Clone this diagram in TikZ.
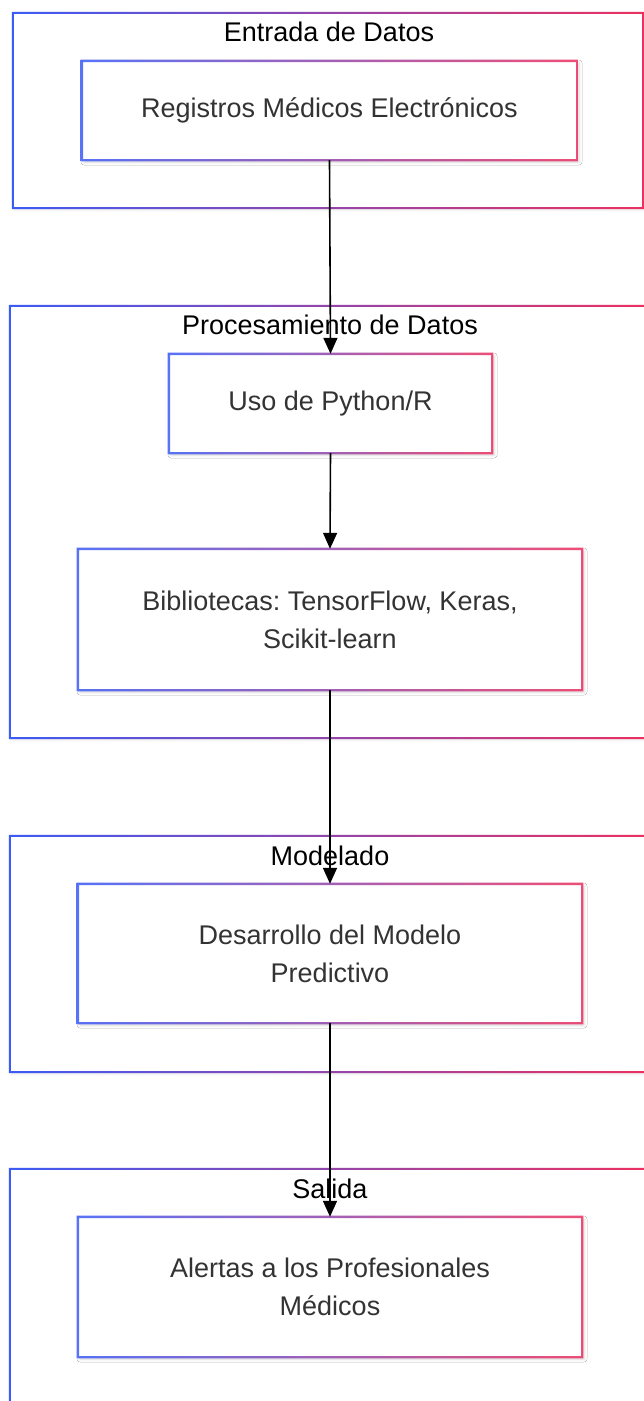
\documentclass[tikz,border=0pt]{standalone}
\usepackage{fontspec}
\setmainfont{Liberation Sans}
\usetikzlibrary{calc,arrows.meta,shadows.blur}
\frenchspacing

\definecolor{cblue}{RGB}{59,91,245}
\definecolor{cred}{RGB}{236,48,96}
\definecolor{ntext}{RGB}{51,51,51}

% gradient border (blue to red, left to right) around a named node
\newcommand\gradring[3][1]{%
  \shade[left color=cblue,right color=cred,even odd rule,opacity=#3]
    ($(#2.south west)+(-#1,#1)$) rectangle ($(#2.north east)+(#1,-#1)$)
    ($(#2.south west)+(#1,-#1)$) rectangle ($(#2.north east)+(-#1,#1)$);}

\tikzset{
  cluster/.style={rectangle,fill=white,inner sep=0pt,
    blur shadow={shadow xshift=1.5pt,shadow yshift=-1.5pt,shadow blur radius=3pt,shadow opacity=12}},
  ctitle/.style={anchor=base,text=black,font=\fontsize{27}{33}\selectfont},
  proc/.style={rectangle,fill=white,inner sep=0pt,align=center,text=ntext,
    font=\fontsize{27}{38}\selectfont,
    blur shadow={shadow xshift=2pt,shadow yshift=-2pt,shadow blur radius=3pt,shadow opacity=15}},
  flow/.style={draw=black,line width=1.6pt,-{Triangle[length=16pt,width=14pt]}}
}

\begin{document}
\begin{tikzpicture}[x=1pt,y=-1pt]
\useasboundingbox (0,0) rectangle (644,1401);
\clip (0,0) rectangle (644,1401);

% --- Entrada de Datos ---
\node[cluster,minimum width=630pt,minimum height=195pt] (c1) at (328,110.5) {};
\gradring{c1}{1}
\node[ctitle] (t1) at ($(c1.north)+(1,28.5)$) {Entrada de Datos};
\node[proc,minimum width=495pt,minimum height=99pt] (n1) at (329.5,110.5) {\raisebox{-2pt}{Registros Médicos Electrónicos}};
\gradring[1.2]{n1}{0.85}

% --- Procesamiento de Datos ---
\node[cluster,minimum width=640pt,minimum height=432pt] (c2) at (330,522) {};
\gradring{c2}{1}
\node[ctitle] (t2) at (330,334.5) {Procesamiento de Datos};
\node[proc,minimum width=323pt,minimum height=99pt] (n2) at (330.5,403.5) {\raisebox{-2pt}{Uso de Python/R}};
\gradring[1.2]{n2}{0.85}
\node[proc,minimum width=504pt,minimum height=141pt] (n3) at (330,619.5) {Bibliotecas: TensorFlow, Keras,\\Scikit-learn};
\gradring[1.2]{n3}{0.85}

% --- Modelado ---
\node[cluster,minimum width=640pt,minimum height=236pt] (c3) at (330,954) {};
\gradring{c3}{1}
\node[ctitle] (t3) at (330,865) {Modelado};
\node[proc,minimum width=504pt,minimum height=139pt] (n4) at (330,953.5) {Desarrollo del Modelo\\Predictivo};
\gradring[1.2]{n4}{0.85}

% --- Salida ---
\node[cluster,minimum width=640pt,minimum height=271pt] (c4) at (330,1304.5) {};
\gradring{c4}{1}
\node[ctitle] (t4) at (330,1198) {Salida};
\node[proc,minimum width=504pt,minimum height=140pt] (n5) at (330,1287) {Alertas a los Profesionales\\Médicos};
\gradring[1.2]{n5}{0.85}

% --- flow ---
\draw[flow] (n1.south) -- (n2.north);
\draw[flow] (n2.south) -- (n3.north);
\draw[flow] (n3.south) -- (n4.north);
\draw[flow] (n4.south) -- (n5.north);
\end{tikzpicture}
\end{document}
